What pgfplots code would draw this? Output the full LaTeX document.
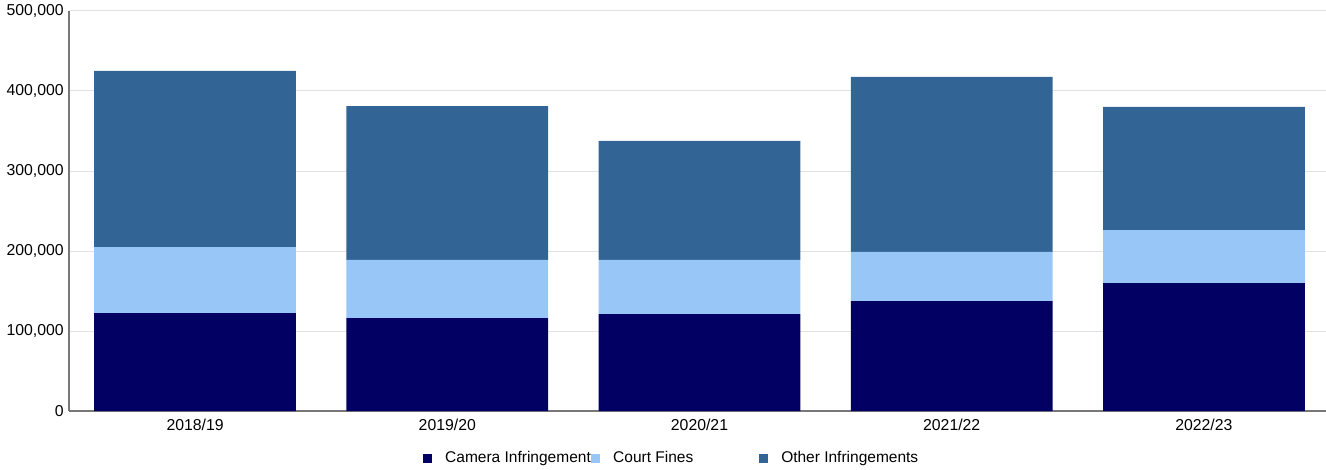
\documentclass[border=0pt]{standalone}
\usepackage{fontspec}
\setmainfont{Liberation Sans}
\usepackage{pgfplots}
\pgfplotsset{compat=1.18}
\definecolor{camera}{RGB}{2,0,98}
\definecolor{court}{RGB}{151,198,247}
\definecolor{other}{RGB}{50,101,149}
\definecolor{gridc}{RGB}{226,226,226}
\definecolor{axc}{RGB}{120,120,120}
\begin{document}
\fontsize{15.5bp}{18bp}\selectfont
\begin{tikzpicture}
\begin{axis}[
  name=ax,
  scale only axis,
  width=1261bp, height=400bp,
  ybar stacked, bar width=0.8,
  xmin=-0.5, xmax=4.5,
  ymin=0, ymax=500000,
  xtick={0,1,2,3,4},
  xticklabels={2018/19,2019/20,2020/21,2021/22,2022/23},
  ytick={0,100000,200000,300000,400000,500000},
  scaled y ticks=false,
  yticklabel style={/pgf/number format/.cd,1000 sep={,},fixed,assume math mode=true},
  tick label style={font=\fontsize{15.8bp}{18bp}\selectfont},
  major tick length=0pt,
  axis x line*=bottom, axis y line*=left,
  axis line style={draw=axc, line width=1.3bp, -},
  ymajorgrids, major grid style={draw=gridc, line width=1bp},
  xticklabel style={yshift=-3bp},
  legend columns=-1,
  legend image code/.code={\fill (0bp,-4.5bp) rectangle (9bp,4.5bp);},
  legend style={draw=none, fill=none, at={(0.2784,-0.1175)}, anchor=west,
    font=\fontsize{15.5bp}{18bp}\selectfont,
    nodes={inner sep=0pt},
    /tikz/every odd column/.append style={column sep=13bp},
    /tikz/every even column/.append style={column sep=0bp}},
]
\addplot[fill=camera, draw=none] coordinates {(0,122500) (1,116000) (2,121000) (3,137500) (4,160000)};
\addlegendentry{\makebox[146bp][l]{Camera Infringement}}
\addplot[fill=court, draw=none] coordinates {(0,82500) (1,73000) (2,68000) (3,61500) (4,66000)};
\addlegendentry{\makebox[146bp][l]{Court Fines}}
\addplot[fill=other, draw=none] coordinates {(0,220000) (1,192000) (2,148500) (3,218500) (4,154000)};
\addlegendentry{\makebox[146bp][l]{Other Infringements}}
\end{axis}
\pgfresetboundingbox
\path ([xshift=-69bp,yshift=-58bp]ax.south west) rectangle ([xshift=-4bp,yshift=11bp]ax.north east);
\end{tikzpicture}
\end{document}
